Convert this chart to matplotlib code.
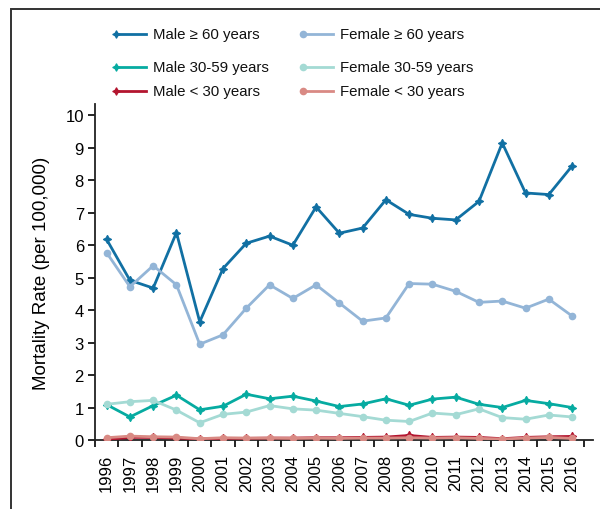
import numpy as np
import matplotlib.pyplot as plt
from matplotlib.lines import Line2D
from matplotlib.patches import Rectangle

plt.rcParams['font.family'] = ['Liberation Sans', 'DejaVu Sans']

# ---------------------------------------------------------------------
# data
# ---------------------------------------------------------------------
years = list(range(1996, 2017))

male_60 = [6.18, 4.92, 4.68, 6.39, 3.64, 5.28, 6.06, 6.28, 6.00, 7.18, 6.37,
           6.53, 7.40, 6.95, 6.83, 6.78, 7.35, 9.15, 7.61, 7.56, 8.44]
female_60 = [5.77, 4.72, 5.37, 4.78, 2.95, 3.24, 4.06, 4.78, 4.36, 4.78, 4.22,
             3.66, 3.76, 4.82, 4.80, 4.58, 4.24, 4.28, 4.06, 4.34, 3.82]
male_30_59 = [1.09, 0.71, 1.06, 1.38, 0.93, 1.04, 1.41, 1.27, 1.35, 1.20, 1.03,
              1.11, 1.27, 1.07, 1.26, 1.32, 1.10, 1.00, 1.22, 1.12, 1.00]
female_30_59 = [1.10, 1.18, 1.22, 0.92, 0.53, 0.79, 0.86, 1.06, 0.96, 0.92, 0.82,
                0.72, 0.61, 0.57, 0.83, 0.78, 0.96, 0.69, 0.64, 0.77, 0.71]
male_u30 = [0.02, 0.08, 0.08, 0.06, 0.03, 0.05, 0.05, 0.06, 0.06, 0.07, 0.07,
            0.08, 0.09, 0.14, 0.08, 0.09, 0.08, 0.04, 0.08, 0.10, 0.11]
female_u30 = [0.07, 0.12, 0.10, 0.09, 0.04, 0.07, 0.06, 0.06, 0.05, 0.06, 0.05,
              0.06, 0.06, 0.07, 0.06, 0.07, 0.05, 0.03, 0.06, 0.08, 0.05]

# label, values, colour, is_male
series = [
    ("Male \u2265 60 years", male_60, "#1170a3", True),
    ("Female \u2265 60 years", female_60, "#93b5d7", False),
    ("Male 30-59 years", male_30_59, "#06aba1", True),
    ("Female 30-59 years", female_30_59, "#a4dad4", False),
    ("Male < 30 years", male_u30, "#b3152f", True),
    ("Female < 30 years", female_u30, "#d98a84", False),
]

MALE_MARKER = (4, 1, 0)

# ---------------------------------------------------------------------
# figure
# ---------------------------------------------------------------------
fig = plt.figure(figsize=(6.0, 5.1), dpi=100)
W, H = 600, 510

# outer frame (left and top edges visible)
fig.patches.append(Rectangle((11 / W, -0.1), 1.2, 1 - 10 / H + 0.1,
                             transform=fig.transFigure, fill=False,
                             edgecolor="#333333", linewidth=1.4))

ax = fig.add_axes([95 / W, (H - 441) / H, (593 - 95) / W, (441 - 105) / H])

# low series first so the upper ones sit on top
for label, vals, col, is_male in [series[4], series[5], series[2], series[3],
                                   series[0], series[1]]:
    if is_male:
        ax.plot(years, vals, color=col, lw=2.0, marker=MALE_MARKER,
                markersize=6, markeredgewidth=0.8, zorder=3)
    else:
        ax.plot(years, vals, color=col, lw=2.0, marker="o",
                markersize=5.5, markeredgewidth=0, zorder=3)

ax.set_xlim(1995.5, 2016.9)
ax.set_ylim(0, 10.35)
ax.set_yticks(range(0, 11))
ax.set_xticks(years)
ax.set_xticklabels([str(y) for y in years], rotation=90, fontsize=12)
ax.set_xticks(np.arange(1995.5, 2017, 1.0), minor=True)
ax.tick_params(axis="x", which="major", length=0, pad=10)
ax.tick_params(axis="x", which="minor", length=5, width=1.2, direction="out")
ax.tick_params(axis="y", length=5, width=1.2, direction="out", labelsize=12,
               pad=3)
for s in ("top", "right"):
    ax.spines[s].set_visible(False)
for s in ("left", "bottom"):
    ax.spines[s].set_linewidth(1.3)
    ax.spines[s].set_color("#222222")
ax.set_ylabel("Mortality Rate (per 100,000)", fontsize=13.5, labelpad=11)

# ---------------------------------------------------------------------
# legend (drawn by hand: marker at the left end of each sample line)
# ---------------------------------------------------------------------
leg = fig.add_axes([0, 0, 1, 1], facecolor="none")
leg.set_xlim(0, W)
leg.set_ylim(H, 0)
leg.axis("off")
row_y = [35, 68, 92]
col_x = [115, 302]
for i, (label, vals, col, is_male) in enumerate(series):
    r, c = divmod(i, 2)
    x0, y0 = col_x[c], row_y[r]
    leg.add_line(Line2D([x0, x0 + 31], [y0, y0], color=col, lw=2.0))
    if is_male:
        leg.add_line(Line2D([x0 + 1], [y0], color=col, marker=MALE_MARKER,
                            markersize=5.5, markeredgewidth=0.8))
    else:
        leg.add_line(Line2D([x0 + 1], [y0], color=col, marker="o",
                            markersize=5.5, markeredgewidth=0))
    leg.text(x0 + 38, y0, label, fontsize=10.8, va="center", ha="left",
             color="#111111")

fig.savefig("out.png", dpi=100)
